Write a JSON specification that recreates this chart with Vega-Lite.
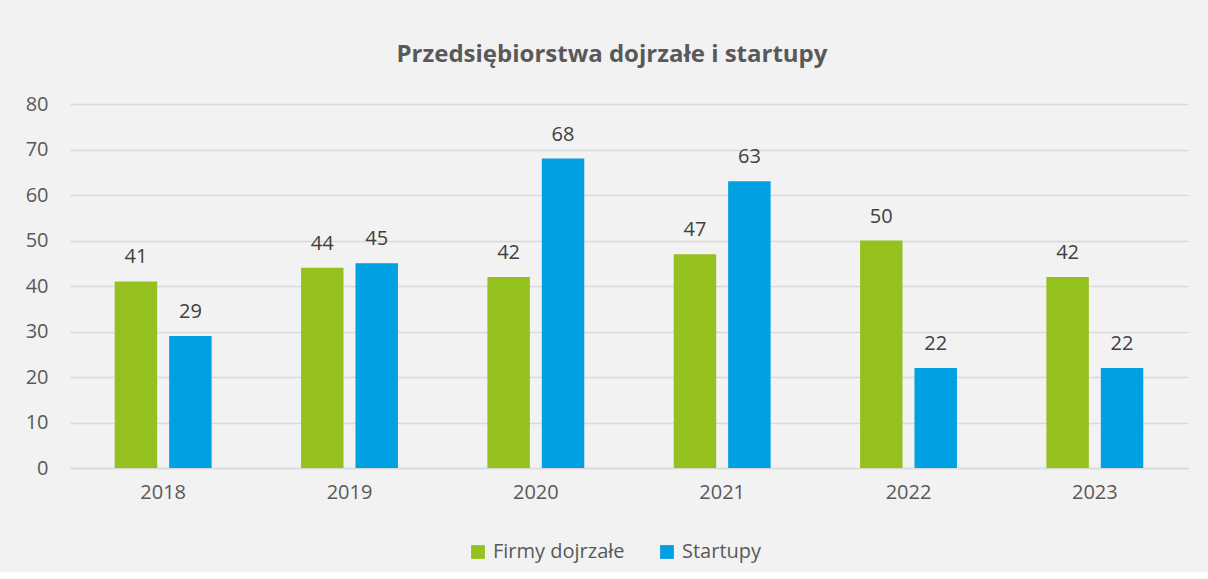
{
  "$schema": "https://vega.github.io/schema/vega-lite/v6.json",
  "background": "#f2f2f2",
  "padding": {"left": 10, "top": 43, "right": 20, "bottom": 10},
  "width": 1118,
  "height": 364,
  "title": {
    "text": "Przedsiębiorstwa dojrzałe i startupy",
    "font": "Open Sans",
    "fontSize": 24,
    "fontWeight": "bold",
    "color": "#595959",
    "anchor": "middle",
    "frame": "group",
    "dx": -17,
    "offset": 27
  },
  "data": {
    "values": [
      {"year": "2018", "series": "Firmy dojrzałe", "value": 41},
      {"year": "2018", "series": "Startupy", "value": 29},
      {"year": "2019", "series": "Firmy dojrzałe", "value": 44},
      {"year": "2019", "series": "Startupy", "value": 45},
      {"year": "2020", "series": "Firmy dojrzałe", "value": 42},
      {"year": "2020", "series": "Startupy", "value": 68},
      {"year": "2021", "series": "Firmy dojrzałe", "value": 47},
      {"year": "2021", "series": "Startupy", "value": 63},
      {"year": "2022", "series": "Firmy dojrzałe", "value": 50},
      {"year": "2022", "series": "Startupy", "value": 22},
      {"year": "2023", "series": "Firmy dojrzałe", "value": 42},
      {"year": "2023", "series": "Startupy", "value": 22}
    ]
  },
  "encoding": {
    "x": {
      "field": "year",
      "type": "nominal",
      "title": null,
      "scale": {"paddingInner": 0.48, "paddingOuter": 0.24},
      "axis": {
        "labelAngle": 0,
        "labelFont": "Open Sans",
        "labelFontSize": 20,
        "labelColor": "#595959",
        "labelPadding": 14,
        "ticks": false,
        "domainColor": "#d9d9d9",
        "domainWidth": 1.5,
        "minExtent": 45,
        "maxExtent": 45
      }
    },
    "xOffset": {
      "field": "series",
      "type": "nominal",
      "scale": {"paddingInner": 0.22, "paddingOuter": 0}
    },
    "y": {
      "field": "value",
      "type": "quantitative",
      "title": null,
      "scale": {"domain": [0, 80]},
      "axis": {
        "values": [0, 10, 20, 30, 40, 50, 60, 70, 80],
        "labelFont": "Open Sans",
        "labelFontSize": 20,
        "labelColor": "#595959",
        "labelPadding": 22,
        "ticks": false,
        "domain": false,
        "gridColor": "#d9d9d9",
        "gridWidth": 1.5,
        "minExtent": 60,
        "maxExtent": 60
      }
    }
  },
  "layer": [
    {
      "mark": {"type": "bar"},
      "encoding": {
        "color": {
          "field": "series",
          "type": "nominal",
          "scale": {"domain": ["Firmy dojrzałe", "Startupy"], "range": ["#95c11f", "#00a0e3"]},
          "legend": {
            "title": null,
            "orient": "none",
            "direction": "horizontal",
            "legendX": 398,
            "legendY": 438,
            "symbolType": "square",
            "symbolSize": 190,
            "symbolStrokeWidth": 0,
            "labelFont": "Open Sans",
            "labelFontSize": 20,
            "labelColor": "#595959",
            "columnPadding": 32,
            "labelOffset": 5
          }
        }
      }
    },
    {
      "mark": {"type": "text", "baseline": "alphabetic", "dy": -18, "font": "Open Sans", "fontSize": 20, "color": "#404040"},
      "encoding": {
        "text": {"field": "value", "type": "quantitative"}
      }
    }
  ],
  "config": {
    "view": {"stroke": null}
  }
}
